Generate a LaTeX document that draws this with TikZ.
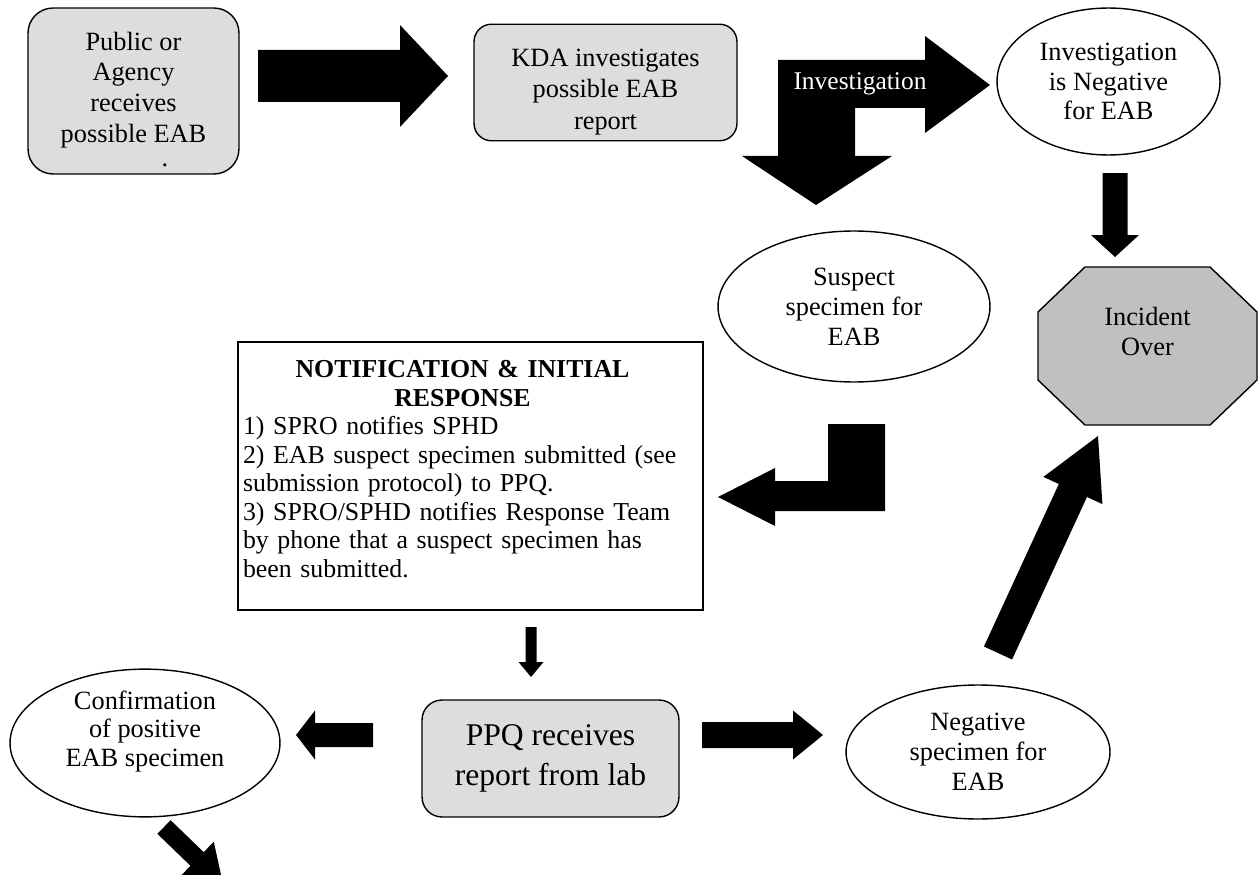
\documentclass[tikz,border=0pt]{standalone}
\usepackage{fontspec}
\setmainfont{Liberation Serif}
\usetikzlibrary{calc,shapes.geometric}
\definecolor{boxgray}{HTML}{DDDDDD}
\definecolor{stopgray}{HTML}{C0C0C0}

% fat arrow: from, to, half shaft, half head, head length (all in px)
\newcommand{\blockarrow}[5]{%
  \coordinate (hb) at ($(#2)!#5*0.02cm!(#1)$);
  \fill ($(#1)!#3*0.02cm!90:(#2)$) -- ($(hb)!#3*0.02cm!90:(#2)$)
    -- ($(hb)!#4*0.02cm!90:(#2)$) -- (#2)
    -- ($(hb)!#4*0.02cm!-90:(#2)$) -- ($(hb)!#3*0.02cm!-90:(#2)$)
    -- ($(#1)!#3*0.02cm!-90:(#2)$) -- cycle;}

\begin{document}
\begin{tikzpicture}[x=0.02cm, y=-0.02cm, line width=0.8pt,
  txt/.style={font=\fontsize{15}{17}\selectfont, align=center},
  box/.style={txt, draw, fill=boxgray, rounded corners=#1},
  oval/.style={txt, draw, ellipse, inner sep=0pt}]

  \useasboundingbox (0,0) rectangle (1258,875);
  \clip (0,0) rectangle (1258,875);

  % top row
  \node[box=0.5cm, minimum width=4.22cm, minimum height=3.32cm,
        font=\fontsize{15}{17.6}\selectfont] (pub) at (133.5,91)
    {\rule{0pt}{20pt}Public or\\Agency\\receives\\possible EAB\\[-4pt]\hphantom{report}.};
  \node[box=0.35cm, minimum width=5.26cm, minimum height=2.26cm,
        font=\fontsize{15}{18}\selectfont] (kda) at (605.5,82.5)
    {\rule{0pt}{20.5pt}KDA investigates\\possible EAB\\report};
  \node[oval, minimum width=4.46cm, minimum height=2.94cm] (negi) at (1108.5,81.5)
    {Investigation\\is Negative\\for EAB};

  % middle
  \node[oval, minimum width=5.44cm, minimum height=3.02cm] (susp) at (854,306.5)
    {Suspect\\specimen for\\EAB};
  \filldraw[fill=stopgray] (1085,267) -- (1210,267) -- (1257,312) -- (1257,380)
    -- (1210,425) -- (1085,425) -- (1038,380) -- (1038,312) -- cycle;
  \node[txt] (over) at (1147.5,346) {Incident\\Over\\\mbox{}};
  \node[txt, draw, minimum width=9.3cm, minimum height=5.36cm, text width=9.1cm,
        inner xsep=0.1cm, align=left, font=\fontsize{14.7}{16.2}\selectfont]
    (notif) at (470.5,476)
    {{\centering\bfseries\hspace*{-0.32cm}NOTIFICATION \& INITIAL\\
      \hspace*{-0.32cm}RESPONSE\par}
     1) SPRO notifies SPHD\\
     2) EAB suspect specimen submitted (see\\
     submission protocol) to PPQ.\\
     3) SPRO/SPHD notifies Response Team\\
     by phone that a suspect specimen has\\
     been submitted.\\[-8pt]\mbox{}};

  % bottom row
  \node[box=0.4cm, minimum width=5.14cm, minimum height=2.34cm,
        font=\fontsize{18}{22.8}\selectfont] (ppq) at (550.5,758.5)
    {PPQ receives\\report from lab};
  \node[oval, minimum width=5.4cm, minimum height=2.56cm,
        font=\fontsize{15}{16.3}\selectfont] (conf) at (145,743)
    {Confirmation\\of positive\\EAB specimen\\\mbox{}};
  \node[oval, minimum width=5.28cm, minimum height=2.68cm] (negs) at (978,752)
    {Negative\\specimen for\\EAB};

  % arrow ends
  \coordinate (pubR) at (258,76);   \coordinate (kdaL) at (448,76);
  \coordinate (negiB) at (1115,173); \coordinate (overT) at (1115,257);
  \coordinate (notifB) at (531,627); \coordinate (ppqT) at (531,677);
  \coordinate (ppqR) at (702,735);  \coordinate (negsL) at (823,735);
  \coordinate (ppqL) at (373,735);  \coordinate (confR) at (296,735);
  \coordinate (negsT) at (998,653); \coordinate (overB) at (1098,436);
  \coordinate (confB) at (164,827); \coordinate (down) at (223,884);

  \blockarrow{pubR}{kdaL}{26}{51}{48}
  \blockarrow{negiB}{overT}{12.5}{24}{22}
  \blockarrow{notifB}{ppqT}{5.5}{12.5}{15}
  \blockarrow{ppqR}{negsL}{13}{24.5}{30}
  \blockarrow{ppqL}{confR}{12}{24.5}{19}
  \blockarrow{negsT}{overB}{15.5}{32.5}{60}
  \blockarrow{confB}{down}{9.5}{24}{36}

  % split arrow out of kda
  \fill (778,60) -- (925,60) -- (925,36) -- (990,85) -- (925,133) -- (925,108)
    -- (855,108) -- (855,156) -- (892,156) -- (816,205) -- (742,156)
    -- (778,156) -- cycle;
  \node[txt, white, font=\fontsize{14.5}{17}\selectfont] (inv) at (860,84)
    {Investigation};

  % bent arrow into notif
  \fill (828,424) -- (885,424) -- (885,511) -- (775,511) -- (775,526)
    -- (718,497) -- (775,468) -- (775,481) -- (828,481) -- cycle;
\end{tikzpicture}
\end{document}
